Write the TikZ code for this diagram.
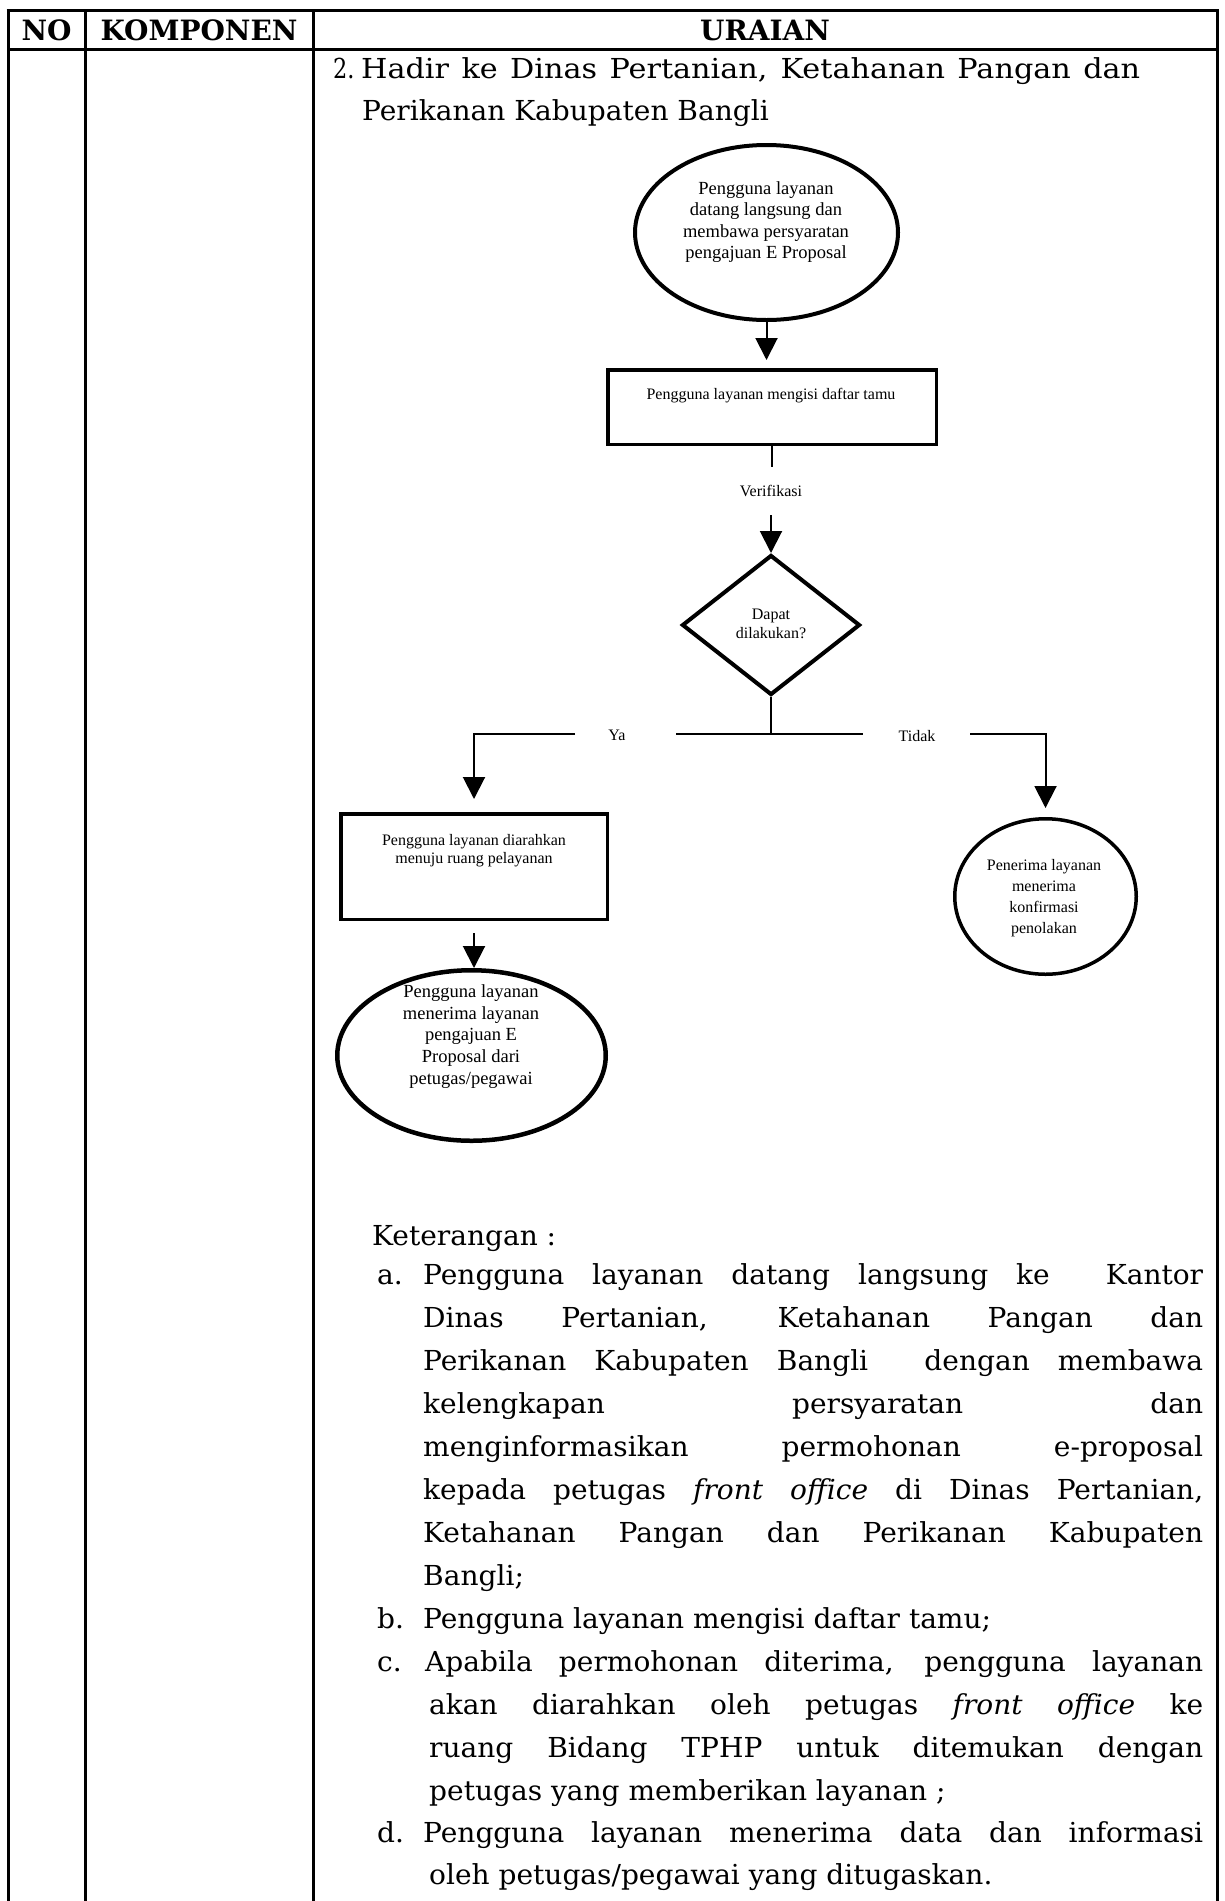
\documentclass[tikz,border=0pt]{standalone}
\usepackage{fontspec}
\usepackage{graphicx}
\setmainfont{DejaVu Serif}[FakeStretch=1.02]
\newfontfamily\headf{DejaVu Serif}[FakeStretch=1.1]
\newfontfamily\hdrf{DejaVu Serif}
\newfontfamily\tnr{Liberation Serif}
\usetikzlibrary{shapes.geometric,arrows.meta}
\begin{document}
\begin{tikzpicture}[x=1pt,y=-1pt,
  grid/.style={line width=3pt},
  body/.style={font=\fontsize{27.5}{43}\selectfont, inner sep=0pt, anchor=base west},
  head/.style={font=\headf\fontsize{27.5}{43}\selectfont, inner sep=0pt, anchor=base west},
  hdr/.style={font=\hdrf\bfseries\fontsize{28}{30}\selectfont, inner sep=0pt},
  fc/.style={font=\tnr\fontsize{16}{19}\selectfont, align=center, inner sep=0pt},
  fcd/.style={font=\tnr\fontsize{16}{18.5}\selectfont, align=center, inner sep=0pt},
  fcr/.style={font=\tnr\fontsize{16}{21}\selectfont, align=center, inner sep=0pt},
  fcl/.style={font=\tnr\fontsize{18.5}{21.6}\selectfont, align=center, inner sep=0pt},
  oval/.style={ellipse, draw, inner sep=0pt},
  box/.style={rectangle, draw, line width=3.5pt, inner sep=0pt},
  conn/.style={line width=2pt},
  arr/.style={conn, -{Triangle[length=22pt,width=22pt]}}
]
\useasboundingbox (0,0) rectangle (1225,1901);
\fill[white] (0,0) rectangle (1225,1901);
% table
\draw[grid] (6.5,10) -- (1218.5,10);
\draw[grid] (8,49) -- (1217,49);
\draw[grid] (8,10) -- (8,1901);
\draw[grid] (85,10) -- (85,1901);
\draw[grid] (313,10) -- (313,1901);
\draw[grid] (1217,10) -- (1217,1901);
\node[hdr] (hno) at (46.5,30) {NO};
\node[hdr] (hkomp) at (199,30) {KOMPONEN};
\node[hdr] (hur) at (765,30) {URAIAN};
% heading
\node[body] (h0) at (333,78) {\scalebox{0.8}[1]{2.}};
\node[head] (h1) at (361,78) {\makebox[779pt][s]{Hadir ke Dinas Pertanian, Ketahanan Pangan dan}};
\node[body] (h2) at (362,120) {Perikanan Kabupaten Bangli};
% flowchart
\node[oval, line width=4pt, minimum width=263pt, minimum height=175pt] (e1) at (766.5,232.5) {};
\node[fcl] (e1t) at (766,222) {Pengguna layanan\\datang langsung dan\\membawa persyaratan\\pengajuan E Proposal};
\node[box, minimum width=328.5pt, minimum height=74.5pt] (r1) at (772,407) {};
\node[fc] (r1t) at (771,396) {Pengguna layanan mengisi daftar tamu};
\node[fc, minimum height=48pt] (verif) at (771,491) {Verifikasi};
\node[diamond, draw, line width=4pt, minimum width=178pt, minimum height=140pt, inner sep=0pt] (d) at (771,625) {};
\node[fcd] (dt) at (771,624) {Dapat\\dilakukan?};
\node[box, minimum width=266.5pt, minimum height=105.5pt] (r2) at (474,866.5) {};
\node[fcd] (r2t) at (474,850.5) {Pengguna layanan diarahkan\\menuju ruang pelayanan};
\node[oval, line width=4.5pt, minimum width=268.5pt, minimum height=170.5pt] (e2) at (471.5,1055.5) {};
\node[fcl] (e2t) at (471,1036.5) {Pengguna layanan\\menerima layanan\\pengajuan E\\Proposal dari\\petugas/pegawai};
\node[oval, line width=3.5pt, minimum width=181.5pt, minimum height=155.5pt] (e3) at (1045.5,896.5) {};
\node[fcr] (e3t) at (1044,898.5) {Penerima layanan\\menerima\\konfirmasi\\penolakan};
\node[fc] (ya) at (617,735) {Ya};
\node[fc] (tidak) at (917,736) {Tidak};
\coordinate (jn) at (771,734);
\coordinate (jl) at (676,734);
\coordinate (jr) at (863,734);
\coordinate (yl) at (575,734);
\coordinate (tr) at (970,734);
% connectors
\draw[arr, shorten >=8pt] (e1.south) -- (e1.south |- r1.north);
\draw[conn] (r1.south) -- (r1.south |- verif.north);
\draw[arr] (verif.south) -- (d.north);
\draw[conn] (d.south) -- (jn);
\draw[conn] (jl) -- (jr);
\draw[arr, shorten >=13pt] (yl) -| (r2.north);
\draw[arr, shorten >=9pt] (tr) -| (e3.north);
\draw[arr, shorten <=12pt] (r2.south) -- (r2.south |- e2.north);
% keterangan
\node[body] (ket) at (372,1245) {Keterangan :};
\node[body] (la) at (377,1284) {a.};
\node[body] (a1) at (423,1284) {\makebox[780pt][s]{Pengguna layanan datang langsung ke \ Kantor}};
\node[body] (a2) at (423,1327) {\makebox[780pt][s]{Dinas Pertanian, Ketahanan Pangan dan}};
\node[body] (a3) at (423,1370) {\makebox[780pt][s]{Perikanan Kabupaten Bangli \ dengan membawa}};
\node[body] (a4) at (423,1413) {\makebox[780pt][s]{kelengkapan persyaratan dan}};
\node[body] (a5) at (423,1456) {\makebox[780pt][s]{menginformasikan permohonan e-proposal}};
\node[body] (a6) at (423,1499) {\makebox[780pt][s]{kepada petugas \textit{front office} di Dinas Pertanian,}};
\node[body] (a7) at (423,1542) {\makebox[780pt][s]{Ketahanan Pangan dan Perikanan Kabupaten}};
\node[body] (a8) at (423,1585) {Bangli;};
\node[body] (lb) at (377,1628) {b.};
\node[body] (b1) at (423,1628) {Pengguna layanan mengisi daftar tamu;};
\node[body] (lc) at (377,1671) {c.};
\node[body] (c1) at (425,1671) {\makebox[778pt][s]{Apabila permohonan diterima, pengguna layanan}};
\node[body] (c2) at (429,1714) {\makebox[774pt][s]{akan diarahkan oleh petugas \textit{front office} ke}};
\node[body] (c3) at (429,1757) {\makebox[774pt][s]{ruang Bidang TPHP untuk ditemukan dengan}};
\node[body] (c4) at (429,1800) {petugas yang memberikan layanan ;};
\node[body] (ld) at (377,1842) {d.};
\node[body] (d1) at (423,1842) {\makebox[780pt][s]{Pengguna layanan menerima data dan informasi}};
\node[body] (d2) at (429,1884) {oleh petugas/pegawai yang ditugaskan.};
\end{tikzpicture}
\end{document}
